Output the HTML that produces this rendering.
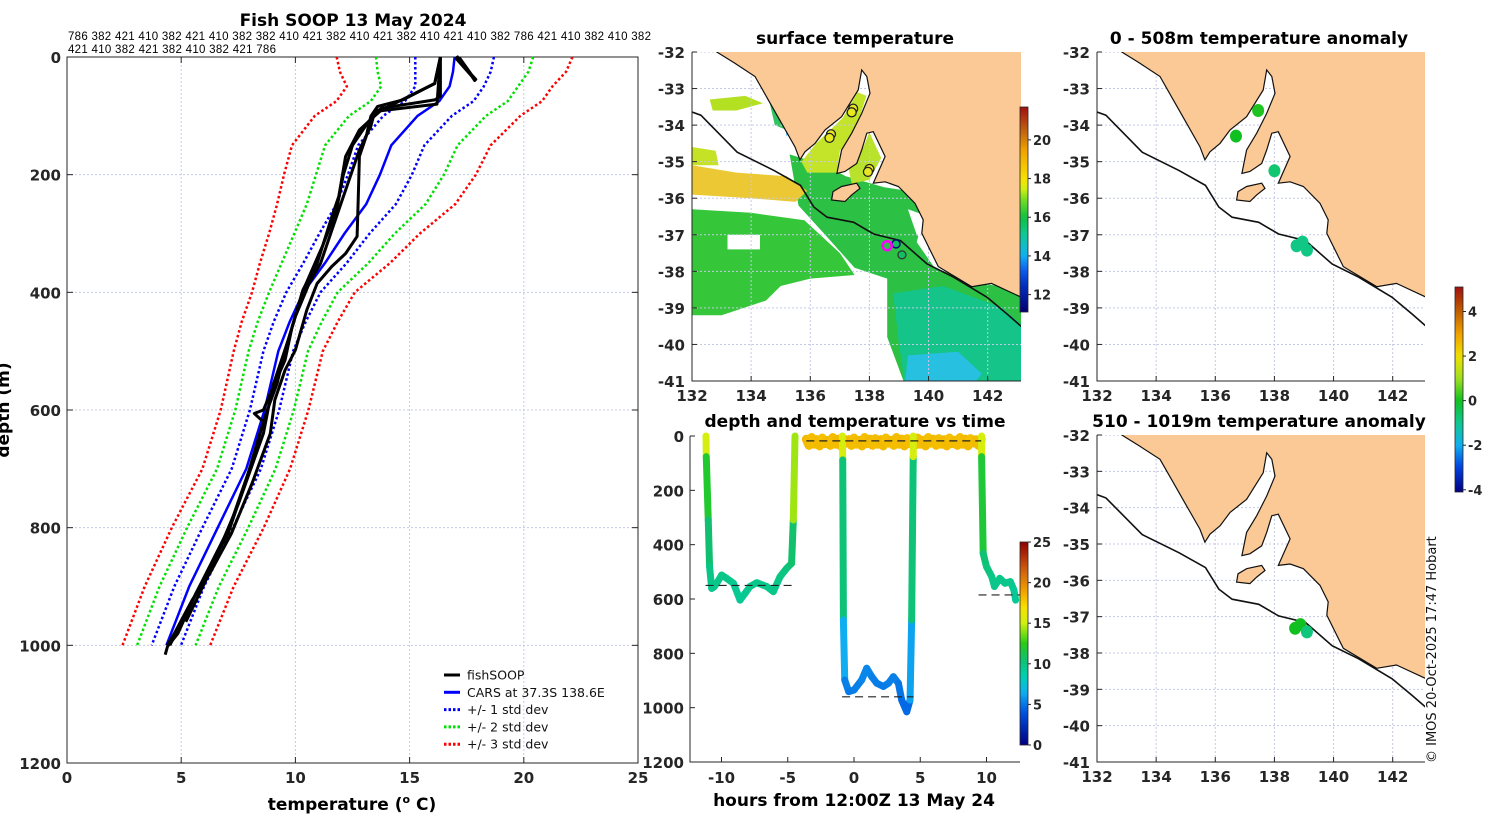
<!DOCTYPE html>
<html><head><meta charset="utf-8"><style>
html,body{margin:0;padding:0;background:#fff;}
svg{display:block;font-family:"DejaVu Sans","Liberation Sans",sans-serif;}
.tk{font-weight:bold;font-size:15px;fill:#262626;}
.ttl{font-weight:bold;font-size:17px;fill:#000;}
</style></head><body>
<svg id="fig" width="1500" height="820" viewBox="0 0 1500 820" xmlns="http://www.w3.org/2000/svg">
<rect x="0" y="0" width="1500" height="820" fill="#fff"/>
<text class="ttl" x="353" y="26" text-anchor="middle">Fish SOOP 13 May 2024</text>
<text x="68" y="40" font-size="11.5" font-family="Liberation Sans, sans-serif" textLength="583">786 382 421 410 382 421 410 382 382 410 421 382 410 421 382 410 421 410 382 786 421 410 382 410 382</text>
<text x="68" y="53" font-size="11.5" font-family="Liberation Sans, sans-serif" textLength="208">421 410 382 421 382 410 382 421 786</text>
<text class="ttl" x="855" y="44" text-anchor="middle">surface temperature</text>
<text class="ttl" x="1259" y="44" text-anchor="middle">0 - 508m temperature anomaly</text>
<text class="ttl" x="855" y="427" text-anchor="middle">depth and temperature vs time</text>
<text class="ttl" x="1259" y="427" text-anchor="middle">510 - 1019m temperature anomaly</text>
<text class="ttl" x="352" y="810" text-anchor="middle">temperature (<tspan font-size="11" dy="-7">o</tspan><tspan dy="7"> C)</tspan></text>
<text class="ttl" x="0" y="0" text-anchor="middle" transform="translate(9,410) rotate(-90)">depth (m)</text>
<text class="ttl" x="854" y="806" text-anchor="middle">hours from 12:00Z 13 May 24</text>
<text x="0" y="0" font-size="13" font-family="DejaVu Sans, sans-serif" fill="#111" transform="translate(1436,763) rotate(-90)">© IMOS 20-Oct-2025 17:47 Hobart</text>
<g id="g-profile"></g>
<g id="g-ts"></g>
<g id="g-maps"></g>
</svg>
<script>
// ---------- profile chart data ----------
const tempTicks=[0,5,10,15,20,25];
const depthTicks=[0,200,400,600,800,1000,1200];
const carsDepth=[0,25,50,75,100,150,200,250,300,350,400,450,500,600,700,800,900,1000];
const carsMean=[16.97,16.9,16.75,16.3,15.35,14.2,13.7,13.1,12.15,11.3,10.35,9.75,9.25,8.65,7.85,6.6,5.35,4.35];
const carsStd=[1.72,1.65,1.5,1.5,1.5,1.45,1.4,1.3,1.1,0.95,0.75,0.7,0.65,0.64,0.64,0.67,0.65,0.64];
const fishDepthA=[0,67,73,87,96,118,158,192,243,294,351,385,441,498,555,600,640,725,810,866,912,980,1002,1016];
const fishTempA=[16.35,16.35,16.1,13.77,13.45,13.3,12.8,12.5,12.05,11.6,11.1,10.6,10.0,9.55,9.2,8.77,8.45,7.8,7.05,6.26,5.64,4.85,4.4,4.3];
const fishDepthB=[0,45,73,84,101,135,169,243,305,334,356,385,430,498,532,583,640,725,810,877,923,980,1000];
const fishTempB=[16.35,16.1,14.7,13.6,13.3,13.1,12.8,12.75,12.7,12.2,11.6,10.95,10.5,10.0,9.55,9.1,8.9,8.1,7.2,6.26,5.48,4.7,4.39];
const fishDepthC=[0,45,90,101,124,169,237,271,351,396,458,515,555,600,606,620,700,800,900,1000];
const fishTempC=[16.35,16.1,13.77,13.45,12.8,12.2,11.9,11.6,10.95,10.33,9.86,9.55,9.1,8.6,8.2,8.6,8.0,7.1,5.8,4.5];
const fishDepthD=[0,80,92,110,150,200,260,320,400,480,560,640,760,880,960];
const fishTempD=[16.35,16.2,13.6,13.2,12.5,12.1,11.8,11.2,10.3,9.7,9.0,8.6,7.5,6.2,5.2];
const fishDepthE=[0,38,5,35,2,40,8,30,0,25,3,36];
const fishTempE=[17.0,17.9,17.1,17.8,17.2,17.85,17.3,17.7,17.1,17.6,17.05,17.8];
const legendLabels=["fishSOOP","CARS at 37.3S 138.6E","+/- 1 std dev","+/- 2 std dev","+/- 3 std dev"];

// ---------- time series data ----------
const tsTicksX=[-10,-5,0,5,10];
const tsTicksY=[0,200,400,600,800,1000,1200];
const tsTime1=[-11.17,-11.15,-11.0,-10.9,-10.74,-10.55,-10.36,-9.99,-9.61,-9.1,-8.6,-8.22,-7.85,-7.34,-6.59,-6.09,-5.58,-5.08,-4.71,-4.58,-4.45];
const tsDepth1=[0,76,309,481,561,555,542,512,524,542,604,579,554,540,554,573,518,487,469,309,0];
const tsTemp1=[17.5,13,11,10,9.6,9.6,9.7,9.8,9.7,9.6,9.2,9.4,9.6,9.7,9.6,9.5,9.8,10,10.2,11,17.5];
const tsTime2=[-0.88,-0.85,-0.8,-0.7,-0.4,0.0,0.58,0.96,1.34,1.72,2.22,2.6,2.97,3.35,3.6,3.98,4.23,4.35,4.47,4.47];
const tsDepth2=[0,88,677,898,941,935,898,855,886,910,922,910,886,910,972,1015,972,677,76,0];
const tsTemp2=[17.5,13,7.5,5.4,5.1,5.1,5.3,5.5,5.3,5.2,5.1,5.2,5.3,5.2,4.8,4.5,4.8,7.5,13,17.5];
const tsTime3=[9.63,9.63,9.75,10.0,10.4,10.6,11.0,11.4,11.8,12.07,12.2];
const tsDepth3=[0,76,432,481,518,554,524,542,536,567,604];
const tsTemp3=[17.5,13,10.6,10.2,9.9,9.6,9.8,9.7,9.7,9.5,9.2];
const tsTimeS=[-3.6,-3.4,-3.2,-3.0,-2.8,-2.6,-2.4,-2.2,-2.0,-1.8,-1.6,-1.4,-1.2,-1.0,-0.8,-0.6,-0.4,-0.2,0.0,0.2,0.4,0.6,0.8,1.0,1.2,1.4,1.6,1.8,2.0,2.2,2.4,2.6,2.8,3.0,3.2,3.4,3.6,3.8,4.0,4.2,4.4,4.6,4.8,5.0,5.2,5.4,5.6,5.8,6.0,6.2,6.4,6.6,6.8,7.0,7.2,7.4,7.6,7.8,8.0,8.2,8.4,8.6,8.8,9.0,9.2,9.4,9.6];
const tsDepthS=[12,34,6,30,14,36,8,28,16,34,6,30,12,36,10,26,14,34,8,30,16,36,6,28,12,34,10,30,14,36,8,26,16,34,6,30,12,36,10,28,14,34,8,30,16,36,6,26,12,34,10,30,14,36,8,28,16,34,6,30,12,36,10,26,14,34,12];
const tsTempS=[18,18.3,17.9,18.2,18,18.4,17.9,18.1,18,18.3,17.9,18.2,18,18.4,17.9,18.1,18,18.3,17.9,18.2,18,18.4,17.9,18.1,18,18.3,17.9,18.2,18,18.4,17.9,18.1,18,18.3,17.9,18.2,18,18.4,17.9,18.1,18,18.3,17.9,18.2,18,18.4,17.9,18.1,18,18.3,17.9,18.2,18,18.4,17.9,18.1,18,18.3,17.9,18.2,18,18.4,17.9,18.1,18,18.3,18];
const dashStart=[-11.2,-0.9,9.4,-3.6];
const dashEnd=[-4.5,4.5,12.5,9.6];
const dashDepth=[550,960,585,18];
const tsCbTicks=[0,5,10,15,20,25];

// ---------- map data ----------
const lonTicks=[132,134,136,138,140,142];
const latTicks=[-32,-33,-34,-35,-36,-37,-38,-39,-40,-41];
const sstCbTicks=[12,14,16,18,20];
const anomCbTicks=[-4,-2,0,2,4];
const anomTopLon=[137.45,136.7,138.0,138.75,138.95,139.1];
const anomTopLat=[-33.6,-34.3,-35.25,-37.3,-37.2,-37.42];
const anomTopVal=[0.1,0.0,-0.7,-0.9,-0.9,-0.9];
const anomBotLon=[138.7,138.88,139.1];
const anomBotLat=[-37.32,-37.22,-37.42];
const anomBotVal=[0.0,0.0,-0.8];
const trackLon=[137.45,137.4,136.7,136.65,138.0,137.95];
const trackLat=[-33.55,-33.65,-34.25,-34.35,-35.2,-35.28];

const coast=[[132.84,-32.0],[133.45,-32.31],[134.13,-32.67],[134.58,-33.31],[135.03,-33.95],[135.48,-34.59],[135.65,-34.95],[135.82,-34.73],[136.16,-34.5],[136.5,-34.13],[137.06,-33.77],[137.62,-33.04],[137.74,-32.49],[137.91,-32.67],[138.02,-33.13],[137.74,-33.68],[137.4,-34.22],[137.06,-34.68],[136.9,-35.32],[137.17,-35.27],[137.57,-35.05],[137.74,-34.68],[137.91,-34.22],[138.13,-34.18],[138.53,-34.86],[138.13,-35.59],[138.53,-35.55],[138.98,-35.68],[139.54,-36.14],[139.82,-36.59],[139.77,-36.96],[140.33,-37.87],[141.46,-38.42],[142.13,-38.33],[143.09,-38.69],[143.3,-38.7],[143.3,-31.9],[132.84,-31.9]];
const island=[[136.77,-35.82],[137.06,-35.68],[137.57,-35.59],[137.68,-35.73],[137.4,-35.91],[137.17,-36.09],[136.72,-36.05]];
const shelf=[[132.0,-33.64],[132.3,-33.73],[133.53,-34.74],[134.77,-35.24],[135.67,-35.65],[136.12,-36.24],[136.57,-36.52],[137.47,-36.66],[138.14,-36.98],[139.05,-37.16],[139.95,-37.8],[140.85,-38.16],[141.98,-38.71],[142.66,-39.17],[143.17,-39.53],[143.4,-39.7]];
const sstPatches=[
 {c:"#36c63a",p:[[132,-36.3],[134,-36.4],[135.8,-36.6],[137,-37.5],[137.5,-38.1],[136,-38.2],[135,-38.4],[134.5,-38.8],[133,-39.2],[132,-39.2]]},
 {c:"#2cc044",p:[[135.3,-34.8],[136.5,-35.1],[137.2,-35.4],[138.5,-35.7],[139.3,-35.8],[139.9,-36.3],[139.6,-37.2],[140.2,-37.9],[141.5,-38.3],[143.2,-38.5],[143.2,-41.1],[139.2,-41.1],[138.6,-39.8],[138.6,-38.2],[137.5,-37.9],[136.5,-37],[135.6,-36.2]]},
 {c:"#14c488",p:[[138.8,-38.6],[140.5,-38.4],[142.5,-39],[143.2,-39.5],[143.2,-41.1],[139.2,-41.1],[139,-40]]},
 {c:"#28c0e0",p:[[139.3,-40.3],[141,-40.2],[141.8,-40.8],[141.5,-41.1],[139.2,-41.1]]},
 {c:"#20c6b0",p:[[135.2,-40.6],[136.2,-40.5],[136,-40.9],[135.2,-40.9]]},
 {c:"#ffffff",p:[[136.0,-38.4],[138.4,-38.3],[138.5,-39.8],[139.1,-41.1],[134.6,-41.1],[134.6,-39.2]]},
 {c:"#ffffff",p:[[132.1,-39.4],[134.4,-39.1],[134.6,-41.1],[132.1,-41.1]]},
 {c:"#ffffff",p:[[133.2,-37.0],[134.3,-37.0],[134.3,-37.4],[133.2,-37.4]]},
 {c:"#ffffff",p:[[139.3,-36.3],[140.0,-36.5],[140.4,-37.6],[139.6,-37.0]]},
 {c:"#ecc834",p:[[132,-35.1],[133.5,-35.3],[135.2,-35.4],[135.9,-35.8],[135.5,-36.1],[134,-36.0],[132,-35.9]]},
 {c:"#c6e226",p:[[132,-34.6],[132.8,-34.7],[132.9,-35.1],[132,-35.1]]},
 {c:"#b4e022",p:[[132.6,-33.3],[133.8,-33.2],[134.4,-33.4],[133.5,-33.6],[132.7,-33.6]]},
 {c:"#30c460",p:[[134.6,-33.3],[135.1,-33.6],[135.4,-34.2],[134.8,-34.0]]},
 {c:"#20a8e8",p:[[135.1,-33.8],[135.4,-34.1],[135.2,-34.3]]},
 {c:"#c4e42a",p:[[136.2,-34.5],[137.1,-33.8],[137.6,-33.1],[137.9,-33.2],[137.5,-34.2],[137.0,-34.7],[136.9,-35.3],[135.9,-35.3],[135.7,-35.0]]},
 {c:"#b8e22c",p:[[137.3,-35.2],[137.8,-34.6],[138.0,-34.2],[138.4,-34.9],[138.0,-35.5],[137.4,-35.6]]}
];

// ---------- helpers ----------
const NS="http://www.w3.org/2000/svg";
function mk(tag,attrs,parent){const e=document.createElementNS(NS,tag);for(const k in attrs)e.setAttribute(k,attrs[k]);parent.appendChild(e);return e;}
function cmap(stops,v){if(v<=stops[0][0])return stops[0][1];for(let i=1;i<stops.length;i++){if(v<=stops[i][0]){const a=stops[i-1],b=stops[i];const f=(v-a[0])/(b[0]-a[0]);const ca=parseInt(a[1].slice(1),16),cb=parseInt(b[1].slice(1),16);const r=Math.round(((ca>>16)&255)*(1-f)+((cb>>16)&255)*f),g=Math.round(((ca>>8)&255)*(1-f)+((cb>>8)&255)*f),bl=Math.round((ca&255)*(1-f)+(cb&255)*f);return "rgb("+r+","+g+","+bl+")";}}return stops[stops.length-1][1];}
const jetStops=[[0,"#000080"],[4,"#0050e0"],[6.5,"#10b0f0"],[8.5,"#00d0b0"],[10.5,"#10c070"],[12.5,"#28cc18"],[15,"#d0f010"],[17,"#f8e000"],[19,"#f0a000"],[21.5,"#d06010"],[25,"#900000"]];
const sstStops=[[11.1,"#000070"],[12.5,"#0030c0"],[13.3,"#1060f0"],[14,"#10b0f0"],[15,"#10c8a0"],[16,"#10c040"],[17,"#80e020"],[17.5,"#d8f010"],[18,"#f8e000"],[19.5,"#f0a000"],[20.5,"#c06010"],[21.7,"#a01010"]];
const anomStops=[[-4.1,"#000080"],[-3,"#0040e0"],[-2,"#10b0f0"],[-1,"#10c890"],[0,"#10c020"],[1,"#a0e020"],[2,"#f0e000"],[3,"#f0a000"],[4,"#c06000"],[5.1,"#a01010"]];
const svg=document.getElementById('fig');
const defs=mk('defs',{},svg);
function gradient(id,stops,vmin,vmax){const g=mk('linearGradient',{id:id,x1:0,y1:1,x2:0,y2:0},defs);for(let i=0;i<=40;i++){const v=vmin+(vmax-vmin)*i/40;mk('stop',{offset:(i/40),'stop-color':cmap(stops,v)},g);}}
gradient('gJet',jetStops,0,25);gradient('gSst',sstStops,11.1,21.7);gradient('gAnom',anomStops,-4.1,5.1);

// ---------- profile chart ----------
const gP=document.getElementById('g-profile');
const PX0=67,PX1=638,PY0=57,PY1=763;
const px=t=>PX0+t*(PX1-PX0)/25, py=d=>PY0+d*(PY1-PY0)/1200;
for(const t of tempTicks){
 const gl=mk('line',{x1:px(t),x2:px(t),y1:PY0,y2:PY1,stroke:'#c4cae6','stroke-width':1,'stroke-dasharray':'2,2'},gP);
 
 
 const tk=mk('line',{x1:px(t),x2:px(t),y1:PY1,y2:PY1-6,stroke:'#262626'},gP);
 
 
 const tk2=mk('line',{x1:px(t),x2:px(t),y1:PY0,y2:PY0+6,stroke:'#262626'},gP);
 
 
 const tl=mk('text',{x:px(t),y:PY1+20,'text-anchor':'middle',class:'tk'},gP);tl.textContent=t;
 
 
}
for(const d of depthTicks){
 const gl=mk('line',{x1:PX0,x2:PX1,y1:py(d),y2:py(d),stroke:'#c4cae6','stroke-width':1,'stroke-dasharray':'2,2'},gP);
 
 
 const tk=mk('line',{x1:PX0,x2:PX0+6,y1:py(d),y2:py(d),stroke:'#262626'},gP);
 
 
 const tk2=mk('line',{x1:PX1,x2:PX1-6,y1:py(d),y2:py(d),stroke:'#262626'},gP);
 
 
 const tl=mk('text',{x:PX0-6,y:py(d)+6,'text-anchor':'end',class:'tk'},gP);tl.textContent=d;
 
 
}
const frame=mk('rect',{x:PX0,y:PY0,width:PX1-PX0,height:PY1-PY0,fill:'none',stroke:'#262626','stroke-width':1},gP);


function polyPts(T,D){return T.map((t,i)=>px(t).toFixed(1)+','+py(D[i]).toFixed(1)).join(' ');}
const stdCols=['#0000ff','#00e000','#ff0000'];
for(let k=1;k<=3;k++){
 for(const s of [-1,1]){
  const T=carsMean.map((m,i)=>m+s*k*carsStd[i]);
  const l=mk('polyline',{points:polyPts(T,carsDepth),fill:'none',stroke:stdCols[k-1],'stroke-width':2.5,'stroke-dasharray':'2.5,2.5'},gP);
  
  
 }
}
const cars=mk('polyline',{points:polyPts(carsMean,carsDepth),fill:'none',stroke:'#0000ff','stroke-width':2.5},gP);


const fishSets=[[fishTempA,fishDepthA],[fishTempB,fishDepthB],[fishTempC,fishDepthC],[fishTempD,fishDepthD],[fishTempE,fishDepthE]];
fishSets.forEach((f,i)=>{
 const l=mk('polyline',{points:polyPts(f[0],f[1]),fill:'none',stroke:'#000','stroke-width':3,'stroke-linejoin':'round'},gP);
 
 
});
const legCols=['#000','#0000ff','#0000ff','#00e000','#ff0000'];
legendLabels.forEach((lab,i)=>{
 const y=675+i*17.3;
 const ln=mk('line',{x1:444,x2:460,y1:y,y2:y,stroke:legCols[i],'stroke-width':3,'stroke-dasharray':i<2?'none':'2.5,2'},gP);
 
 
 const tx=mk('text',{x:467,y:y+4.5,'font-size':12.5,fill:'#111'},gP);tx.textContent=lab;
 
 
});

// ---------- time series ----------
const gT=document.getElementById('g-ts');
const TX0=690,TX1=1020,TY0=436,TY1=762;
const tx=t=>854+t*13.25, ty=d=>TY0+d*(TY1-TY0)/1200;
const tsAxis=mk('path',{d:`M${TX0},${TY0}V${TY1}H${TX1}`,fill:'none',stroke:'#262626'},gT);


for(const t of tsTicksX){
 const tk=mk('line',{x1:tx(t),x2:tx(t),y1:TY1,y2:TY1-5,stroke:'#262626'},gT);
 
 
 const tl=mk('text',{x:tx(t),y:TY1+21,'text-anchor':'middle',class:'tk'},gT);tl.textContent=t;
 
 
}
for(const d of tsTicksY){
 const tk=mk('line',{x1:TX0,x2:TX0+5,y1:ty(d),y2:ty(d),stroke:'#262626'},gT);
 
 
 const tl=mk('text',{x:TX0-6,y:ty(d)+6,'text-anchor':'end',class:'tk'},gT);tl.textContent=d;
 
 
}
function drawSeg(T,D,C,name,w){
 for(let i=1;i<T.length;i++){
  const l=mk('line',{x1:tx(T[i-1]),y1:ty(D[i-1]),x2:tx(T[i]),y2:ty(D[i]),stroke:cmap(jetStops,(C[i-1]+C[i])/2),'stroke-width':w,'stroke-linecap':'round'},gT);
  
  
 }
}
drawSeg(tsTimeS,tsDepthS,tsTempS,'surface-track-segment',9);
drawSeg(tsTime1,tsDepth1,tsTemp1,'dive-1-segment',7);
drawSeg(tsTime2,tsDepth2,tsTemp2,'dive-2-segment',7);
drawSeg(tsTime3,tsDepth3,tsTemp3,'dive-3-segment',7);
dashStart.forEach((s,i)=>{
 const l=mk('line',{x1:tx(s),x2:tx(dashEnd[i]),y1:ty(dashDepth[i]),y2:ty(dashDepth[i]),stroke:'#222','stroke-width':1.2,'stroke-dasharray':'8,5'},gT);
 
 
});
function colorbar(g,x,yTop,yBot,grad,vmin,vmax,ticks,name){
 const r=mk('rect',{x:x,y:yTop,width:8,height:yBot-yTop,fill:'url(#'+grad+')',stroke:'#262626','stroke-width':0.8},g);
 
 
 for(const v of ticks){
  const y=yBot-(v-vmin)/(vmax-vmin)*(yBot-yTop);
  const tk=mk('line',{x1:x+8,x2:x+11,y1:y,y2:y,stroke:'#262626'},g);
  
  
  const tl=mk('text',{x:x+13,y:y+5,'font-weight':'bold','font-size':13,fill:'#262626'},g);tl.textContent=v;
  
  
 }
}
colorbar(gT,1020,542,745,'gJet',0,25,tsCbTicks,'ts-colorbar');

// ---------- maps ----------
const gM=document.getElementById('g-maps');
const maps=[{x0:692,y0:52,x1:1021,y1:381,name:'sst-map'},{x0:1097,y0:52,x1:1425,y1:381,name:'anomaly-top-map'},{x0:1097,y0:435,x1:1425,y1:762,name:'anomaly-bottom-map'}];
maps.forEach((m,mi)=>{
 const lx=lon=>m.x0+(lon-132)*29.57, ly=lat=>m.y0+(-32-lat)*(m.y1-m.y0)/9;
 const P=arr=>arr.map(q=>lx(q[0]).toFixed(1)+','+ly(q[1]).toFixed(1)).join(' ');
 const g=mk('g',{},gM);
 
 
 const cp=mk('clipPath',{id:'clip'+mi},defs);
 mk('rect',{x:m.x0,y:m.y0,width:m.x1-m.x0,height:m.y1-m.y0},cp);
 const inner=mk('g',{'clip-path':'url(#clip'+mi+')'},g);
 
 
 if(mi===0){
  sstPatches.forEach(sp=>{
   const pg=mk('polygon',{points:P(sp.p),fill:sp.c},inner);
   
   
  });
 }
 for(const lon of lonTicks){
  const gl=mk('line',{x1:lx(lon),x2:lx(lon),y1:m.y0,y2:m.y1,stroke:'#c4cae6','stroke-dasharray':'2,2'},inner);
  
  
  const tl=mk('text',{x:lx(lon),y:m.y1+20,'text-anchor':'middle',class:'tk'},g);tl.textContent=lon;
  
  
  const tk=mk('line',{x1:lx(lon),x2:lx(lon),y1:m.y1,y2:m.y1-5,stroke:'#262626'},g);
  
  
 }
 for(const lat of latTicks){
  const gl=mk('line',{x1:m.x0,x2:m.x1,y1:ly(lat),y2:ly(lat),stroke:'#c4cae6','stroke-dasharray':'2,2'},inner);
  
  
  const tl=mk('text',{x:m.x0-7,y:ly(lat)+6,'text-anchor':'end',class:'tk'},g);tl.textContent=lat;
  
  
  const tk=mk('line',{x1:m.x0,x2:m.x0+5,y1:ly(lat),y2:ly(lat),stroke:'#262626'},g);
  
  
 }
 const land=mk('polygon',{points:P(coast),fill:'#fbc995',stroke:'#111','stroke-width':1.2},inner);
 
 
 const isl=mk('polygon',{points:P(island),fill:'#fbc995',stroke:'#111','stroke-width':1.2},inner);
 
 
 const sh=mk('polyline',{points:P(shelf),fill:'none',stroke:'#111','stroke-width':1.6},inner);
 
 
 const ax=mk('path',{d:`M${m.x0},${m.y0}V${m.y1}H${m.x1}`,fill:'none',stroke:'#262626'},g);
 
 
 if(mi===0){
  trackLon.forEach((lo,i)=>{
   const c=mk('circle',{cx:lx(lo),cy:ly(trackLat[i]),r:4.5,fill:'#e8e820',stroke:'#222','stroke-width':1.3},inner);
   
   
  });
  const d1=mk('circle',{cx:lx(138.9),cy:ly(-37.25),r:4,fill:'#10c060',stroke:'#001070','stroke-width':1.5},inner);
  
  
  const d2=mk('circle',{cx:lx(139.1),cy:ly(-37.55),r:4,fill:'#10c060',stroke:'#333','stroke-width':1.3},inner);
  
  
  const cur=mk('circle',{cx:lx(138.6),cy:ly(-37.3),r:4.5,fill:'none',stroke:'#ff00ff','stroke-width':2.5},inner);
  
  
 } else {
  const LO=mi===1?anomTopLon:anomBotLon, LA=mi===1?anomTopLat:anomBotLat, V=mi===1?anomTopVal:anomBotVal;
  LO.forEach((lo,i)=>{
   const c=mk('ellipse',{cx:lx(lo),cy:ly(LA[i]),rx:6,ry:6.5,fill:cmap(anomStops,V[i])},inner);
   
   
  });
 }
});
colorbar(gM,1020,107,312,'gSst',11.1,21.7,sstCbTicks,'sst-colorbar');
colorbar(gM,1455,287,492,'gAnom',-4.1,5.1,anomCbTicks,'anomaly-colorbar');
</script>
</body></html>
